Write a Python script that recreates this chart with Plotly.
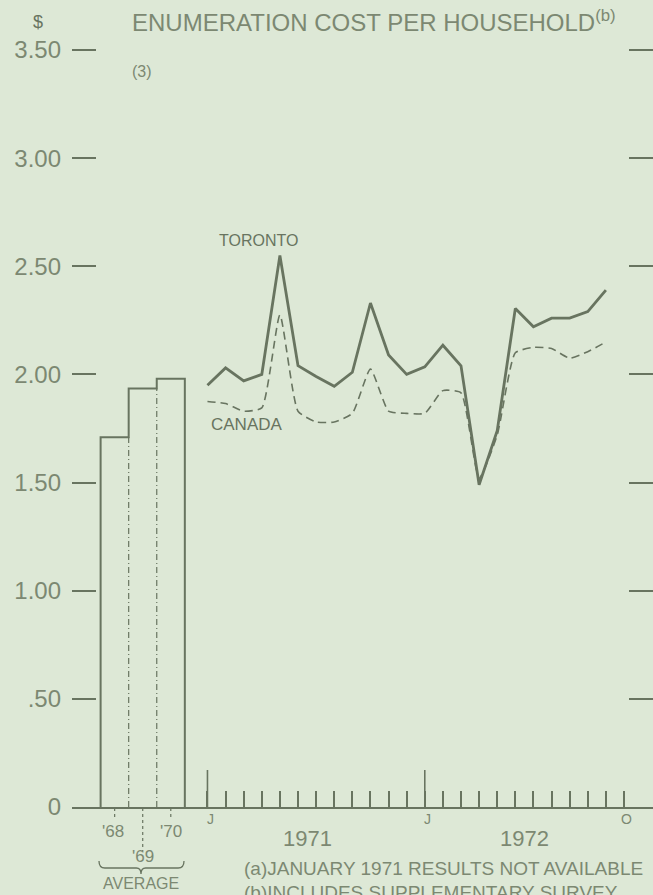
import plotly.graph_objects as go

# ---- data -------------------------------------------------------------
# annual averages (bars)
bar_labels = ["'68", "'69", "'70"]
bar_values = [1.71, 1.935, 1.98]

# monthly series, month index 0 = January 1971
month_index = list(range(23))
toronto = [1.95, 2.03, 1.97, 2.00, 2.55, 2.04, 1.99, 1.945, 2.01, 2.33,
           2.09, 2.00, 2.035, 2.135, 2.04, 1.49, 1.74, 2.305, 2.22, 2.26,
           2.26, 2.29, 2.39]
canada = [1.875, 1.865, 1.83, 1.845, 2.275, 1.83, 1.78, 1.78, 1.82, 2.025,
          1.83, 1.82, 1.82, 1.925, 1.915, 1.52, 1.72, 2.10, 2.125, 2.12,
          2.075, 2.105, 2.15]

y_tickvals = [0, 0.5, 1.0, 1.5, 2.0, 2.5, 3.0, 3.5]
y_ticktext = ["0", ".50", "1.00", "1.50", "2.00", "2.50", "3.00", "3.50"]
month_ticks = list(range(24))
january_ticks = [0, 12]
month_labels = {0: "J", 12: "J", 23: "O"}
year_labels = {5.5: "1971", 17.5: "1972"}

# ---- styling ------------------------------------------------------------
BG = "rgb(221,232,214)"
INK = "rgb(104,116,96)"
TXT = "rgb(124,136,114)"
FONT = "Liberation Sans, Arial, sans-serif"

W, H = 653, 895
ML, MR, MT, MB = 72, 0, 46, 88
PW, PH = W - ML - MR, H - MT - MB
X0 = -7.48                 # left end of the x range (month units)
PX_PER_MONTH = 18.11
X1 = X0 + PW / PX_PER_MONTH
Y_TOP = PH / 216.3

BAR_LEFT = -5.9            # left edge of the first average bar
BAR_W = 1.55

def px(xp):
    return (xp - ML) / PW

def py(yp):
    return (H - MB - yp) / PH

fig = go.Figure()

# average bars (filled with paper colour, outlined below)
edges = [BAR_LEFT + i * BAR_W for i in range(len(bar_values) + 1)]
centers = [e + BAR_W / 2 for e in edges[:-1]]
fig.add_trace(go.Bar(x=centers, y=bar_values, width=BAR_W,
                     marker=dict(color=BG, line=dict(width=0)),
                     showlegend=False, hoverinfo="y"))

# staircase outline of the bars
ox, oy = [edges[0]], [0]
for i, v in enumerate(bar_values):
    ox += [edges[i], edges[i + 1]]
    oy += [v, v]
ox.append(edges[-1])
oy.append(0)
fig.add_trace(go.Scatter(x=ox, y=oy, mode="lines",
                         line=dict(color=INK, width=2),
                         showlegend=False, hoverinfo="skip"))

# shared inner edges, dash-dot below the lower bar
for i in range(1, len(bar_values)):
    low = min(bar_values[i - 1], bar_values[i])
    fig.add_trace(go.Scatter(x=[edges[i], edges[i]], y=[0, low], mode="lines",
                             line=dict(color=INK, width=1.2, dash="6px,3px,1px,3px"),
                             showlegend=False, hoverinfo="skip"))

# monthly lines
fig.add_trace(go.Scatter(x=month_index, y=canada, mode="lines", name="CANADA",
                         line=dict(color=INK, width=1.6, dash="8px,5px",
                                   shape="spline", smoothing=0.5),
                         showlegend=False))
fig.add_trace(go.Scatter(x=month_index, y=toronto, mode="lines", name="TORONTO",
                         line=dict(color=INK, width=2.8),
                         showlegend=False))

annotations = []

def note(text, x, y, size, xref="paper", xanchor="center", color=TXT, yanchor="middle"):
    annotations.append(dict(text=text, x=x, y=y, xref=xref, yref="paper",
                            xanchor=xanchor, yanchor=yanchor, showarrow=False,
                            font=dict(family=FONT, size=size, color=color)))

# title block
note("ENUMERATION COST PER HOUSEHOLD<sup>(b)</sup>", px(130), py(21), 24, xanchor="left")
note("(3)", px(130), py(71), 16, xanchor="left")
note("$", px(38), py(22), 18, color=INK)

# series labels
note("TORONTO", px(258), py(241), 16, color=INK)
note("CANADA", px(247), py(425), 17, color=INK)

# month and year labels
for m, t in month_labels.items():
    note(t, m + 0.15, py(819), 14, xref="x")
for m, t in year_labels.items():
    note(t, m, py(839), 22, xref="x")

# average bar labels
note(bar_labels[0], centers[0] - 0.1, py(831), 17, xref="x")
note(bar_labels[2], centers[2], py(831), 17, xref="x")
note(bar_labels[1], centers[1], py(856), 17, xref="x")
note("AVERAGE", px(141), py(884), 16)

# footnotes
note("(a)JANUARY 1971 RESULTS NOT AVAILABLE", px(242), py(869), 19, xanchor="left")
note("(b)INCLUDES SUPPLEMENTARY SURVEY", px(242), py(892), 19, xanchor="left")

shapes = []
# long January ticks
for m in january_ticks:
    shapes.append(dict(type="line", xref="x", yref="paper", x0=m, x1=m,
                       y0=0, y1=py(770), line=dict(color=INK, width=1.6)))
# dotted pointers under the average bars
for i, c in enumerate(centers):
    bottom = 851 if i == 1 else 820
    shapes.append(dict(type="line", xref="x", yref="paper", x0=c, x1=c,
                       y0=py(808), y1=py(bottom),
                       line=dict(color=INK, width=1.2, dash="dot")))
# brace under the averages
bl, br, bm = px(99), px(184), px(141)
yt, yb, ytip = py(861), py(868), py(874)
path = (f"M {bl} {yt} Q {bl} {yb} {bl + 0.01} {yb} L {bm - 0.008} {yb} "
        f"Q {bm} {yb} {bm} {ytip} Q {bm} {yb} {bm + 0.008} {yb} "
        f"L {br - 0.01} {yb} Q {br} {yb} {br} {yt}")
shapes.append(dict(type="path", xref="paper", yref="paper", path=path,
                   line=dict(color=INK, width=1.3)))

fig.update_layout(
    width=W, height=H,
    margin=dict(l=ML, r=MR, t=MT, b=MB),
    paper_bgcolor=BG, plot_bgcolor=BG,
    annotations=annotations, shapes=shapes,
    bargap=0,
    xaxis=dict(range=[X0, X1], showgrid=False, zeroline=False,
               showline=True, linecolor=INK, linewidth=2,
               tickmode="array", tickvals=month_ticks, showticklabels=False,
               ticks="inside", ticklen=16, tickwidth=1.6, tickcolor=INK,
               fixedrange=True),
    yaxis=dict(range=[0, Y_TOP], showgrid=False, zeroline=False,
               showline=False, tickmode="array", tickvals=y_tickvals,
               ticktext=y_ticktext, ticks="inside", ticklen=24,
               tickwidth=1.6, tickcolor=INK, mirror="ticks",
               tickfont=dict(family=FONT, size=24, color=TXT),
               ticklabelstandoff=10, fixedrange=True),
)

fig.write_html("out.html")
